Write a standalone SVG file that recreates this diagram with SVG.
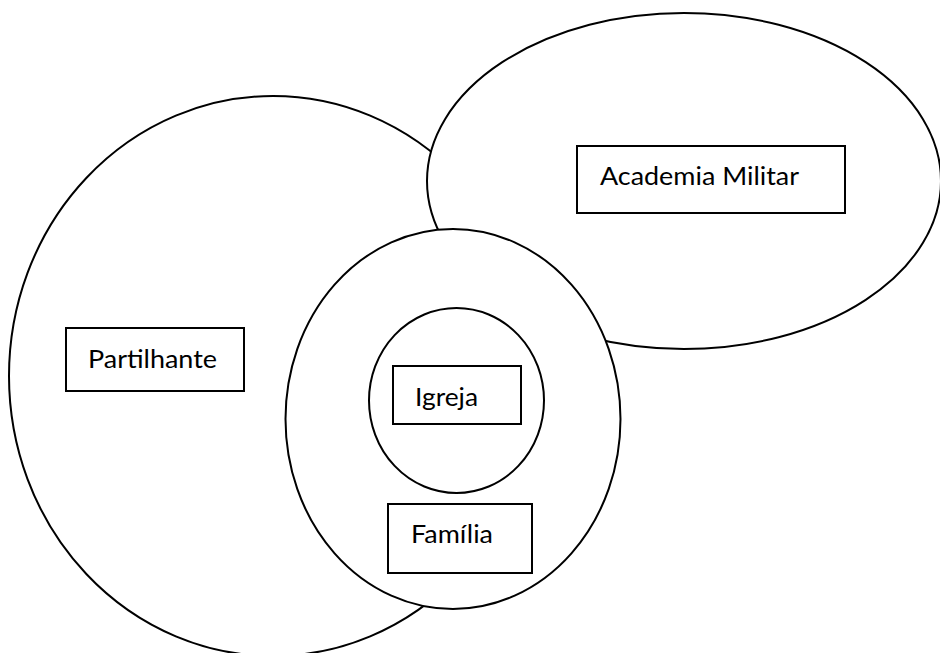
<svg xmlns="http://www.w3.org/2000/svg" width="940" height="653" viewBox="0 0 940 653">
  <style>
    .ring { fill: #ffffff; stroke: #000000; stroke-width: 2; }
    .box { fill: #ffffff; stroke: #000000; stroke-width: 2; }
    .label { font-family: Lato, "Open Sans", "Liberation Sans", sans-serif; font-size: 25px; fill: #000000; }
  </style>
  <rect x="0" y="0" width="940" height="653" fill="#ffffff"/>

  <!-- outer ellipses, back to front -->
  <g id="partilhante">
    <ellipse class="ring" cx="273" cy="376" rx="264" ry="280"/>
    <rect class="box" x="66" y="328" width="178" height="63"/>
    <text class="label" x="88" y="368" textLength="129" lengthAdjust="spacingAndGlyphs">Partilhante</text>
  </g>

  <g id="academia-militar">
    <ellipse class="ring" cx="684" cy="181" rx="257" ry="168"/>
    <rect class="box" x="577" y="146" width="268" height="67"/>
    <text class="label" x="600" y="185" textLength="199" lengthAdjust="spacingAndGlyphs">Academia Militar</text>
  </g>

  <g id="familia">
    <ellipse class="ring" cx="453" cy="419" rx="167.5" ry="190"/>
    <rect class="box" x="388" y="504" width="144" height="69"/>
    <text class="label" x="411" y="543" textLength="82" lengthAdjust="spacingAndGlyphs">Família</text>
  </g>

  <g id="igreja">
    <ellipse class="ring" cx="456.5" cy="400.5" rx="87.5" ry="92.5"/>
    <rect class="box" x="393" y="366" width="128" height="58"/>
    <text class="label" x="415" y="406" textLength="63" lengthAdjust="spacingAndGlyphs">Igreja</text>
  </g>
</svg>
